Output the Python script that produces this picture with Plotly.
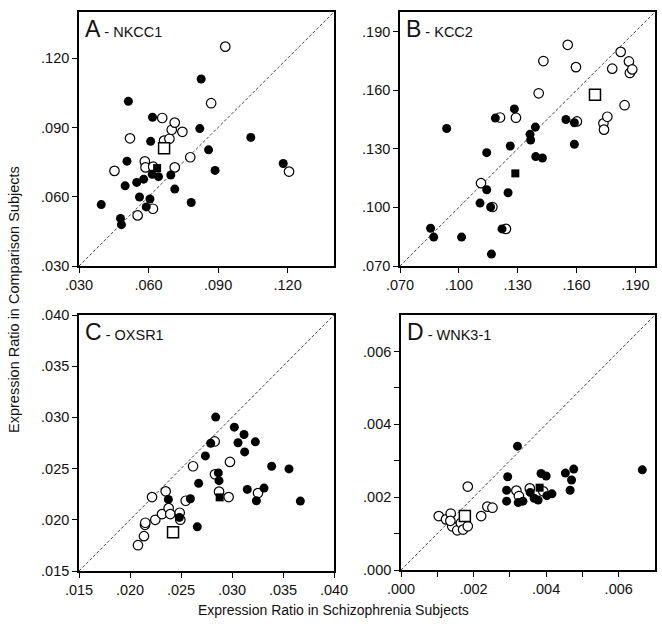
import plotly.graph_objects as go

W, H = 662, 634

# ---------------- Data ----------------
# Panel A - NKCC1
a_fill_x = [.0396, .0479, .0483, .0499, .0507, .0513, .0549, .0561, .0579, .0590, .0606, .0609, .0616,
            .0617, .0643, .0696, .0713, .0784, .0821, .0827, .0859, .0887, .1041, .1181]
a_fill_y = [.0566, .0506, .0479, .0647, .0754, .1013, .0662, .0599, .0676, .0556, .0590, .0840, .0697,
            .0944, .0687, .0694, .0633, .0575, .0895, .1110, .0803, .0714, .0857, .0744]
a_open_x = [.0453, .0520, .0553, .0584, .0587, .0619, .0620, .0659, .0667, .0690, .0700, .0713, .0713,
            .0746, .0780, .0870, .0931, .1206]
a_open_y = [.0712, .0853, .0519, .0753, .0727, .0548, .0730, .0941, .0843, .0851, .0890, .0921, .0727,
            .0881, .0771, .1005, .1250, .0709]
a_sqf_x, a_sqf_y = [.0637], [.0724]
a_sqo_x, a_sqo_y = [.0667], [.0810]

# Panel B - KCC2
b_fill_x = [.0856, .0872, .0938, .1014, .1108, .1142, .1142, .1162, .1166, .1186, .1220, .1251, .1262,
            .1283, .1363, .1366, .1392, .1390, .1426, .1546, .1589, .1589]
b_fill_y = [.0893, .0848, .1404, .0848, .1022, .1090, .1280, .1002, .0761, .1457, .0890, .1075, .1314,
            .1504, .1374, .1345, .1260, .1411, .1253, .1450, .1433, .1323]
b_open_x = [.1113, .1171, .1210, .1240, .1291, .1407, .1431, .1555, .1597, .1602, .1737, .1740, .1757,
            .1782, .1825, .1845, .1867, .1872, .1884]
b_open_y = [.1124, .1002, .1460, .0890, .1459, .1584, .1749, .1832, .1718, .1440, .1430, .1398, .1464,
            .1710, .1796, .1523, .1747, .1688, .1706]
b_sqf_x, b_sqf_y = [.1288], [.1174]
b_sqo_x, b_sqo_y = [.1694], [.1577]

# Panel C - OXSR1
c_fill_x = [.02376, .02484, .02592, .02660, .02673, .02739, .02791, .02840, .02866, .02873, .03023,
            .03059, .03118, .03124, .03150, .03229, .03239, .03314, .03389, .03559, .03670]
c_fill_y = [.02199, .02023, .02206, .01931, .02356, .02624, .02748, .03003, .02458, .02382, .02905,
            .02752, .02833, .02663, .02297, .02761, .02186, .02310, .02523, .02497, .02183]
c_open_x = [.02078, .02137, .02147, .02150, .02216, .02248, .02314, .02350, .02379, .02395, .02487,
            .02493, .02618, .02833, .02873, .02967, .02980, .03255, .02546, .02830]
c_open_y = [.01752, .01840, .01951, .01971, .02222, .02000, .02056, .02278, .02114, .02056, .02069,
            .02001, .02523, .02444, .02275, .02222, .02565, .02261, .02186, .02765]
c_sqf_x, c_sqf_y = [.02879], [.02219]
c_sqo_x, c_sqo_y = [.02422], [.01879]

# Panel D - WNK3-1
d_fill_x = [.00294, .00291, .00291, .00321, .00323, .00336, .00356, .00367, .00378, .00386, .00400,
            .00402, .00416, .00453, .00466, .00470, .00476, .00665]
d_fill_y = [.00256, .00219, .00189, .00340, .00185, .00189, .00213, .00197, .00192, .00265, .00258,
            .00204, .00209, .00266, .00219, .00247, .00277, .00275]
d_open_x = [.00104, .00124, .00137, .00141, .00155, .00165, .00171, .00184, .00184, .00221, .00238,
            .00252, .00318, .00325, .00355, .00392, .00136]
d_open_y = [.00148, .00139, .00155, .00120, .00109, .00129, .00111, .00120, .00229, .00148, .00174,
            .00171, .00218, .00203, .00224, .00216, .00135]
d_sqf_x, d_sqf_y = [.00382], [.00226]
d_sqo_x, d_sqo_y = [.00176], [.00148]

# Axis ranges and ticks
a_range = [.030, .140]
b_range = [.070, .200]
c_range = [.015, .040]
d_range = [.000, .007]
a_ticks = [.030, .060, .090, .120]
a_ticktext = [".030", ".060", ".090", ".120"]
b_ticks = [.070, .100, .130, .160, .190]
b_ticktext = [".070", ".100", ".130", ".160", ".190"]
c_ticks = [.015, .020, .025, .030, .035, .040]
c_ticktext = [".015", ".020", ".025", ".030", ".035", ".040"]
d_ticks = [.000, .002, .004, .006]
d_ticktext = [".000", ".002", ".004", ".006"]
d_minor = [.001, .003, .005]

panel_letters = ["A", "B", "C", "D"]
panel_genes = ["NKCC1", "KCC2", "OXSR1", "WNK3-1"]
x_title = "Expression Ratio in Schizophrenia Subjects"
y_title = "Expression Ratio in Comparison Subjects"

# ---------------- Figure ----------------
FONT = "Liberation Sans, Arial, sans-serif"
TXT = "#111111"

# pixel boxes: (left, right, top, bottom)
boxes = [(79, 334, 12, 266), (400, 655, 12, 266), (79, 334, 315, 571), (401, 655, 315, 570)]

panels = [
    (a_fill_x, a_fill_y, a_open_x, a_open_y, a_sqf_x, a_sqf_y, a_sqo_x, a_sqo_y, a_range, a_ticks, a_ticktext, None),
    (b_fill_x, b_fill_y, b_open_x, b_open_y, b_sqf_x, b_sqf_y, b_sqo_x, b_sqo_y, b_range, b_ticks, b_ticktext, None),
    (c_fill_x, c_fill_y, c_open_x, c_open_y, c_sqf_x, c_sqf_y, c_sqo_x, c_sqo_y, c_range, c_ticks, c_ticktext, None),
    (d_fill_x, d_fill_y, d_open_x, d_open_y, d_sqf_x, d_sqf_y, d_sqo_x, d_sqo_y, d_range, d_ticks, d_ticktext, d_minor),
]

fig = go.Figure()
layout = {}
annotations = []

for i, (fx, fy, ox, oy, sfx, sfy, sox, soy, rng, tv, tt, minor) in enumerate(panels):
    n = "" if i == 0 else str(i + 1)
    xa, ya = "x" + n, "y" + n
    l, r, t, b = boxes[i]
    axis_common = dict(
        range=rng, tickvals=tv, ticktext=tt, showgrid=False, zeroline=False,
        showline=True, mirror=True, linecolor="black", linewidth=1.6,
        ticks="outside", ticklen=5, tickwidth=1.4, tickcolor="black", automargin=False,
        tickfont=dict(family=FONT, size=14.5, color=TXT),
    )
    if minor is not None:
        axis_common["minor"] = dict(tickvals=minor, ticks="outside", ticklen=5,
                                    tickwidth=1.4, tickcolor="black", showgrid=False)
    layout["xaxis" + n] = dict(domain=[l / W, r / W], anchor=ya, **axis_common)
    layout["yaxis" + n] = dict(domain=[1 - b / H, 1 - t / H], anchor=xa, **axis_common)

    # identity line across the axis range
    fig.add_trace(go.Scatter(x=rng, y=rng, mode="lines", xaxis=xa, yaxis=ya,
                             line=dict(color="#444444", width=1, dash="3px,2px"),
                             hoverinfo="skip", showlegend=False))
    fig.add_trace(go.Scatter(x=ox, y=oy, mode="markers", xaxis=xa, yaxis=ya, showlegend=False,
                             marker=dict(symbol="circle", size=9.5, color="white",
                                         line=dict(color="black", width=1.2))))
    fig.add_trace(go.Scatter(x=fx, y=fy, mode="markers", xaxis=xa, yaxis=ya, showlegend=False,
                             marker=dict(symbol="circle", size=9, color="black",
                                         line=dict(width=0))))
    fig.add_trace(go.Scatter(x=sfx, y=sfy, mode="markers", xaxis=xa, yaxis=ya, showlegend=False,
                             marker=dict(symbol="square", size=8, color="black",
                                         line=dict(width=0))))
    fig.add_trace(go.Scatter(x=sox, y=soy, mode="markers", xaxis=xa, yaxis=ya, showlegend=False,
                             marker=dict(symbol="square", size=11, color="white",
                                         line=dict(color="black", width=1.5))))

    annotations.append(dict(
        x=(l + 4) / W, y=1 - (t + 2) / H, xref="paper", yref="paper",
        xanchor="left", yanchor="top", showarrow=False,
        text=f"<span style='font-size:23px'>{panel_letters[i]}</span> - {panel_genes[i]}",
        font=dict(family=FONT, size=14.5, color=TXT),
    ))

annotations.append(dict(x=333 / W, y=1 - 610 / H, xref="paper", yref="paper",
                        xanchor="center", yanchor="middle", showarrow=False,
                        text=x_title, font=dict(family=FONT, size=14, color=TXT)))
annotations.append(dict(x=14 / W, y=1 - 300 / H, xref="paper", yref="paper",
                        xanchor="center", yanchor="middle", showarrow=False, textangle=-90,
                        text=y_title, font=dict(family=FONT, size=14.5, color=TXT)))

fig.update_layout(
    width=W, height=H, margin=dict(l=0, r=0, t=0, b=0),
    paper_bgcolor="white", plot_bgcolor="white",
    annotations=annotations, showlegend=False, hovermode=False, **layout,
)

fig.write_html("out.html", config={"displayModeBar": False},
               post_script="document.body.style.margin='0';document.body.style.overflow='hidden';")
